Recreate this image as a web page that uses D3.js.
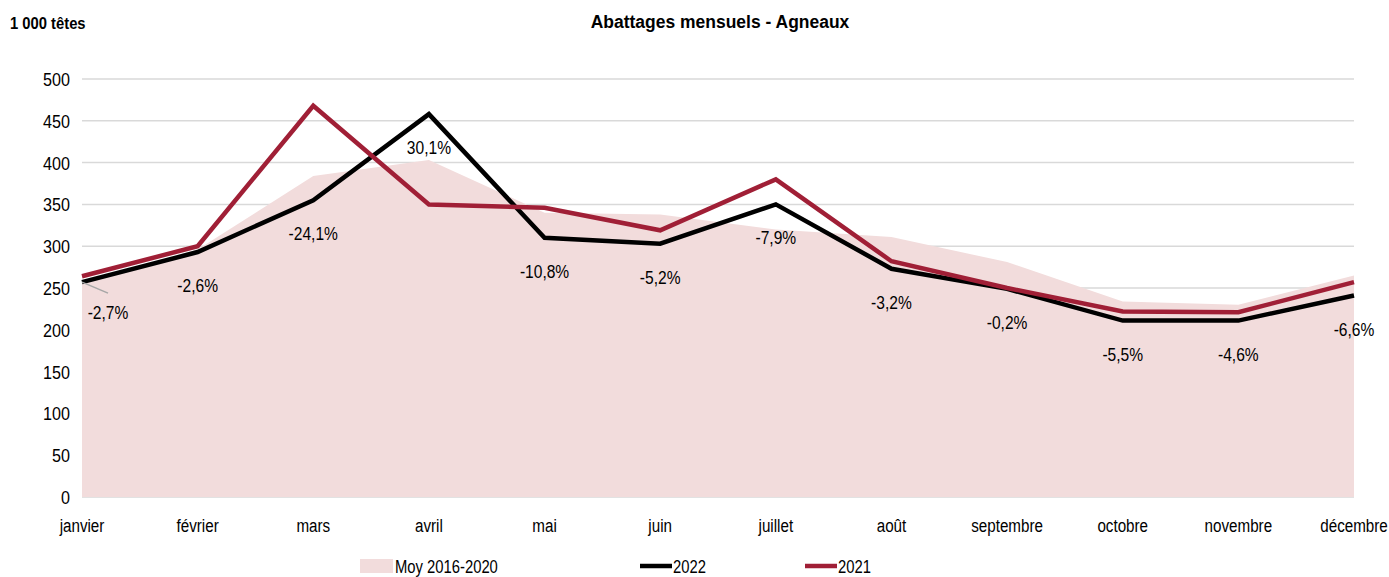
<!DOCTYPE html>
<html>
<head>
<meta charset="utf-8">
<script src="https://cdn.jsdelivr.net/npm/d3@7"></script>
<style>
  body { margin: 0; background: #fff; }
  svg text { font-family: "Liberation Sans Narrow", "Arial Narrow", "Liberation Sans", sans-serif; fill: #000; }
</style>
</head>
<body>
<svg id="chart" width="1389" height="577"></svg>
<script>
// months shown on the x axis
var months = ["janvier", "février", "mars", "avril", "mai", "juin", "juillet",
              "août", "septembre", "octobre", "novembre", "décembre"];

// values, in 1 000 heads
var moy = [257, 296, 384, 403, 340, 338, 320, 311, 281, 234, 230, 265];
var y2022 = [257, 293, 355, 458, 310, 303, 350, 273, 249, 211, 211, 241];
var y2021 = [264, 300, 468, 350, 346, 319, 380, 282, 250, 222, 221, 257];

// variation 2022 / 2021
var pct = ["-2,7%", "-2,6%", "-24,1%", "30,1%", "-10,8%", "-5,2%", "-7,9%",
           "-3,2%", "-0,2%", "-5,5%", "-4,6%", "-6,6%"];

var yTicks = [0, 50, 100, 150, 200, 250, 300, 350, 400, 450, 500];

var svg = d3.select("#chart");

var x = d3.scalePoint().domain(months).range([82, 1354]);
var y = d3.scaleLinear().domain([0, 500]).range([497, 79]);

// no narrow font installed, so squeeze the text horizontally
var SQ = 0.8;
function pos(px, py, s) {
    return "translate(" + px + "," + py + ") scale(" + (s || SQ) + ",1)";
}

// title and unit
svg.append("text")
    .attr("transform", pos(720, 28, 0.92))
    .attr("text-anchor", "middle")
    .attr("font-size", 19).attr("font-weight", "bold")
    .text("Abattages mensuels - Agneaux");
svg.append("text")
    .attr("transform", pos(10, 29, 0.87))
    .attr("font-size", 17).attr("font-weight", "bold")
    .text("1 000 têtes");

// gridlines
svg.append("g").selectAll("line")
    .data(yTicks).enter()
    .append("line")
    .attr("x1", 82).attr("x2", 1354)
    .attr("y1", function (d) { return y(d); })
    .attr("y2", function (d) { return y(d); })
    .attr("stroke", "#d9d9d9")
    .attr("stroke-width", 1.5);

// y axis labels
svg.append("g").selectAll("text")
    .data(yTicks).enter()
    .append("text")
    .attr("transform", function (d) { return pos(70, y(d) + 7, 0.85); })
    .attr("text-anchor", "end")
    .attr("font-size", 19)
    .text(function (d) { return d; });

// x axis labels
svg.append("g").selectAll("text")
    .data(months).enter()
    .append("text")
    .attr("transform", function (d) { return pos(x(d), 532); })
    .attr("text-anchor", "middle")
    .attr("font-size", 19)
    .text(function (d) { return d; });

// average area
var area = d3.area()
    .x(function (d, i) { return x(months[i]); })
    .y0(y(0))
    .y1(function (d) { return y(d); });
svg.append("path")
    .datum(moy)
    .attr("d", area)
    .attr("fill", "#f2dcdc");

var line = d3.line()
    .x(function (d, i) { return x(months[i]); })
    .y(function (d) { return y(d); });

svg.append("path")
    .datum(y2022)
    .attr("d", line)
    .attr("fill", "none")
    .attr("stroke", "#000")
    .attr("stroke-width", 4.5);

svg.append("path")
    .datum(y2021)
    .attr("d", line)
    .attr("fill", "none")
    .attr("stroke", "#a01f36")
    .attr("stroke-width", 4.5);

// leader line for the first label
svg.append("line")
    .attr("x1", x(months[0])).attr("y1", y(y2022[0]))
    .attr("x2", x(months[0]) + 26).attr("y2", y(y2022[0]) + 11)
    .attr("stroke", "#a6a6a6")
    .attr("stroke-width", 1.5);

// percentage labels
svg.append("g").selectAll("text")
    .data(pct).enter()
    .append("text")
    .attr("transform", function (d, i) {
        return pos(x(months[i]) + (i === 0 ? 26 : 0), y(y2022[i]) + (i === 0 ? 37 : 40), 0.82);
    })
    .attr("text-anchor", "middle")
    .attr("font-size", 19)
    .text(function (d) { return d; });

// legend
var lg = svg.append("g").attr("transform", "translate(0,566)");
lg.append("rect")
    .attr("x", 360).attr("y", -7).attr("width", 33).attr("height", 14)
    .attr("fill", "#f2dcdc");
lg.append("text").attr("transform", pos(395, 7, 0.78)).attr("font-size", 19).text("Moy 2016-2020");
lg.append("line")
    .attr("x1", 640).attr("x2", 672).attr("y1", 0).attr("y2", 0)
    .attr("stroke", "#000").attr("stroke-width", 4.5);
lg.append("text").attr("transform", pos(673, 7, 0.78)).attr("font-size", 19).text("2022");
lg.append("line")
    .attr("x1", 805).attr("x2", 837).attr("y1", 0).attr("y2", 0)
    .attr("stroke", "#a01f36").attr("stroke-width", 4.5);
lg.append("text").attr("transform", pos(838, 7, 0.78)).attr("font-size", 19).text("2021");
</script>
</body>
</html>
